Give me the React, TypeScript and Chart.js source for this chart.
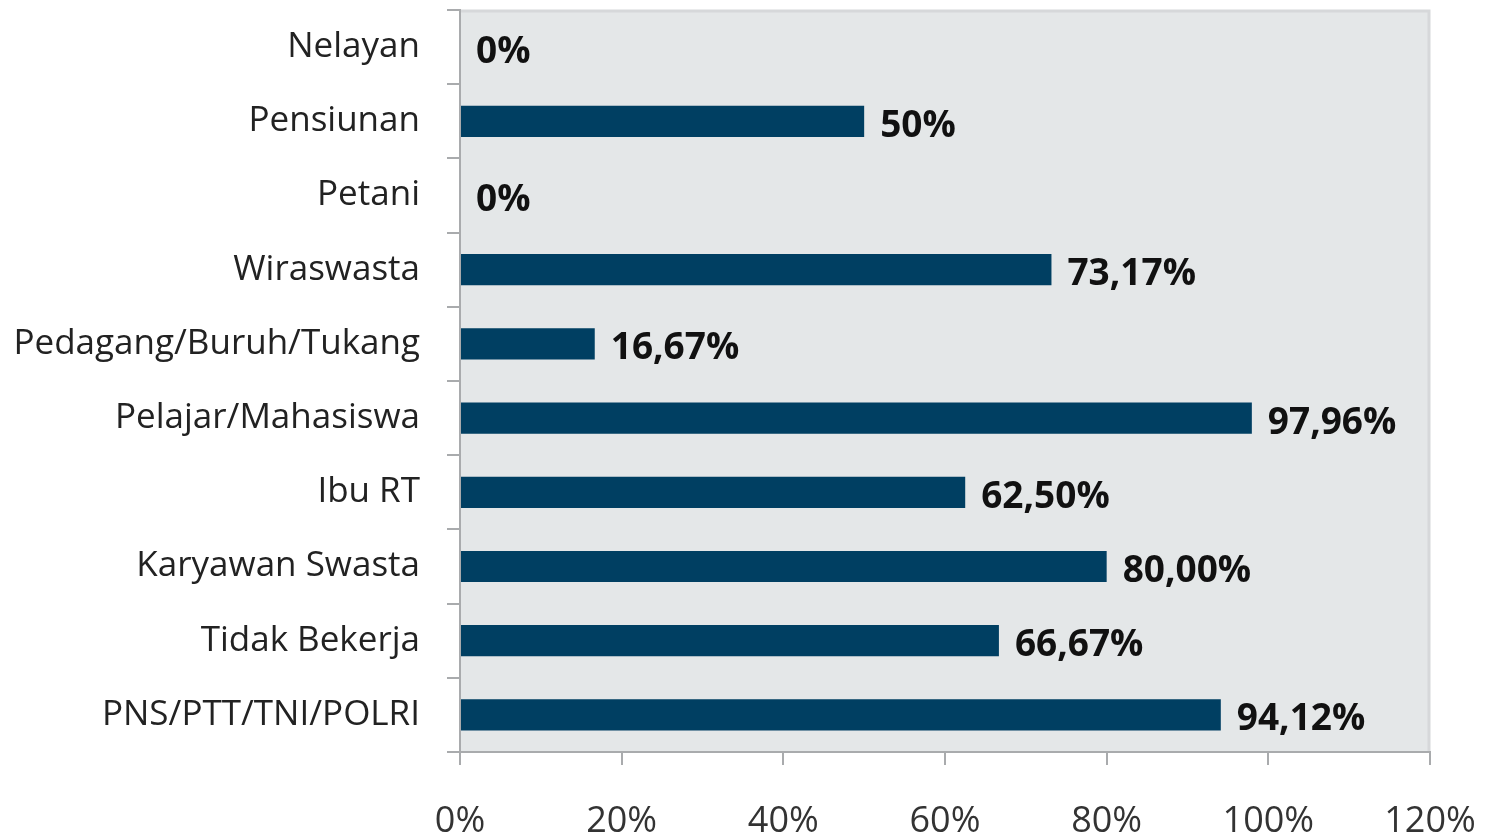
import React, { useEffect, useRef } from "react";
import { Chart, registerables } from "chart.js";

Chart.register(...registerables);

const categories = [
  "Nelayan",
  "Pensiunan",
  "Petani",
  "Wiraswasta",
  "Pedagang/Buruh/Tukang",
  "Pelajar/Mahasiswa",
  "Ibu RT",
  "Karyawan Swasta",
  "Tidak Bekerja",
  "PNS/PTT/TNI/POLRI",
];
const values = [0, 50, 0, 73.17, 16.67, 97.96, 62.5, 80, 66.67, 94.12];
const valueLabels = ["0%", "50%", "0%", "73,17%", "16,67%", "97,96%", "62,50%", "80,00%", "66,67%", "94,12%"];
const xTicks = [0, 20, 40, 60, 80, 100, 120];

const FONT = "'Open Sans', 'Noto Sans', sans-serif";

const bgPlugin = {
  id: "plotBg",
  beforeDraw(chart: any) {
    const { ctx, chartArea: a } = chart;
    ctx.save();
    ctx.fillStyle = "#e4e7e8";
    ctx.fillRect(a.left, a.top, a.right - a.left, a.bottom - a.top);
    ctx.strokeStyle = "#d6d8da";
    ctx.lineWidth = 3;
    ctx.beginPath();
    ctx.moveTo(a.left, a.top + 1);
    ctx.lineTo(a.right - 1, a.top + 1);
    ctx.lineTo(a.right - 1, a.bottom);
    ctx.stroke();
    ctx.restore();
  },
};

const labelPlugin = {
  id: "valueLabels",
  afterDatasetsDraw(chart: any) {
    const { ctx } = chart;
    const meta = chart.getDatasetMeta(0);
    ctx.save();
    ctx.font = `bold 37px ${FONT}`;
    ctx.fillStyle = "#111111";
    ctx.textAlign = "left";
    ctx.textBaseline = "middle";
    meta.data.forEach((bar: any, i: number) => {
      ctx.fillText(valueLabels[i], bar.x + 16, bar.y + 5);
    });
    ctx.restore();
  },
};

export default function App() {
  const ref = useRef<HTMLCanvasElement | null>(null);
  useEffect(() => {
    document.body.style.margin = "0";
    const chart = new Chart(ref.current!, {
      type: "bar",
      data: {
        labels: categories,
        datasets: [
          {
            data: values,
            backgroundColor: "#003f62",
            borderWidth: 0,
            barPercentage: 0.84,
            categoryPercentage: 0.5,
          },
        ],
      },
      options: {
        indexAxis: "y",
        animation: false,
        responsive: false,
        layout: { padding: { top: 10, right: 56, left: 0, bottom: 0 } },
        plugins: { legend: { display: false }, tooltip: { enabled: false } },
        scales: {
          x: {
            min: 0,
            max: 120,
            afterBuildTicks: (s: any) => {
              s.ticks = xTicks.map((v) => ({ value: v }));
            },
            afterFit: (s: any) => {
              s.height = 83;
              s.paddingLeft = 0;
              s.paddingRight = 0;
            },
            border: { display: true, color: "#a9abad", width: 2 },
            grid: {
              drawOnChartArea: false,
              drawTicks: true,
              tickLength: 13,
              color: "#a9abad",
              lineWidth: 2,
            },
            ticks: {
              color: "#333333",
              padding: 35,
              font: { family: FONT, size: 36 },
              callback: (v: any) => `${v}%`,
              maxRotation: 0,
            },
          },
          y: {
            afterFit: (s: any) => {
              s.width = 460;
              s.paddingTop = 0;
              s.paddingBottom = 0;
            },
            border: { display: true, color: "#a9abad", width: 2 },
            grid: {
              drawOnChartArea: false,
              drawTicks: true,
              tickLength: 13,
              color: "#a9abad",
              lineWidth: 2,
              offset: true,
            },
            ticks: {
              color: "#222222",
              padding: 27,
              font: { family: FONT, size: 35 },
            },
          },
        },
      },
      plugins: [bgPlugin, labelPlugin],
    });
    return () => chart.destroy();
  }, []);
  return (
    <div style={{ position: "absolute", left: 0, top: 0, width: 1486, height: 835 }}>
      <canvas ref={ref} width={1486} height={835} style={{ display: "block" }} />
    </div>
  );
}
